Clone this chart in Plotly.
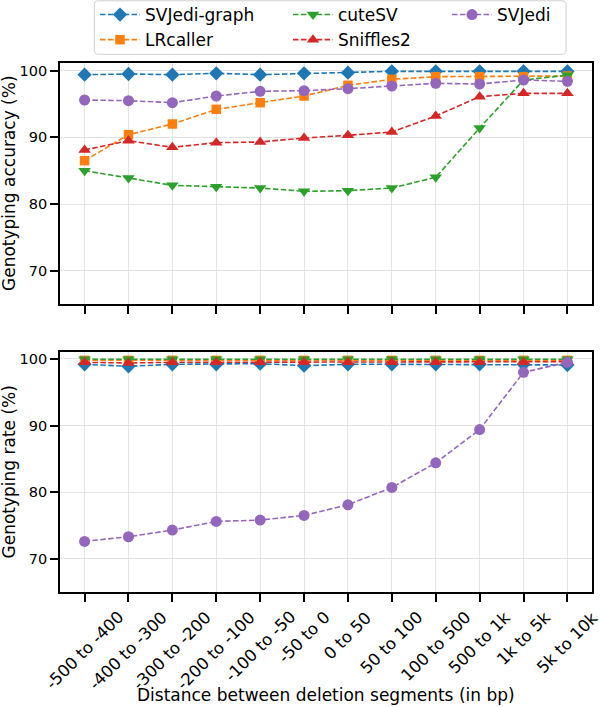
import plotly.graph_objects as go

categories = ["-500 to -400", "-400 to -300", "-300 to -200", "-200 to -100",
              "-100 to -50", "-50 to 0", "0 to 50", "50 to 100",
              "100 to 500", "500 to 1k", "1k to 5k", "5k to 10k"]

# Genotyping accuracy (%)
acc_svjedi_graph = [99.4, 99.5, 99.4, 99.6, 99.4, 99.6, 99.7, 99.9, 99.9, 99.9, 99.9, 99.9]
acc_lrcaller = [86.5, 90.4, 92.0, 94.2, 95.2, 96.2, 97.8, 98.7, 99.1, 99.1, 99.1, 99.2]
acc_cutesv = [85.0, 83.9, 82.8, 82.6, 82.4, 81.9, 82.0, 82.4, 84.0, 91.4, 98.6, 99.3]
acc_sniffles2 = [88.1, 89.5, 88.5, 89.2, 89.3, 89.9, 90.3, 90.8, 93.2, 96.1, 96.6, 96.6]
acc_svjedi = [95.6, 95.5, 95.2, 96.2, 96.9, 97.0, 97.3, 97.7, 98.1, 98.0, 98.6, 98.4]

# Genotyping rate (%)
rate_svjedi_graph = [99.2, 98.9, 99.2, 99.2, 99.3, 99.0, 99.2, 99.2, 99.2, 99.2, 99.2, 99.1]
rate_lrcaller = [99.8, 99.8, 99.8, 99.8, 99.8, 99.8, 99.8, 99.8, 99.8, 99.8, 99.8, 99.8]
rate_cutesv = [99.95, 99.95, 99.95, 99.95, 99.95, 99.95, 99.95, 99.95, 99.95, 99.95, 99.95, 99.95]
rate_sniffles2 = [99.5, 99.4, 99.5, 99.5, 99.5, 99.5, 99.5, 99.5, 99.5, 99.5, 99.5, 99.6]
rate_svjedi = [72.6, 73.3, 74.3, 75.6, 75.8, 76.5, 78.1, 80.7, 84.4, 89.4, 98.0, 99.5]

y_ticks = [70, 80, 90, 100]
acc_title = "Genotyping accuracy (%)"
rate_title = "Genotyping rate (%)"
x_title = "Distance between deletion segments (in bp)"

tools = [
    ("SVJedi-graph", "#1f77b4", "diamond", 11, acc_svjedi_graph, rate_svjedi_graph, "legend"),
    ("LRcaller", "#ff7f0e", "square", 9.5, acc_lrcaller, rate_lrcaller, "legend"),
    ("cuteSV", "#2ca02c", "triangle-down", 11, acc_cutesv, rate_cutesv, "legend2"),
    ("Sniffles2", "#d62728", "triangle-up", 11, acc_sniffles2, rate_sniffles2, "legend2"),
    ("SVJedi", "#9467bd", "circle", 11, acc_svjedi, rate_svjedi, "legend3"),
]

W, H = 600, 707
ML, MR, MT, MB = 60, 8, 63, 115
PW, PH = W - ML - MR, H - MT - MB


def px_x(px):
    return (px - ML) / PW


def px_y(py):
    return (H - MB - py) / PH


FONT = "DejaVu Sans"
DASH = "5.5px,2.4px"

fig = go.Figure()
xs = list(range(len(categories)))
for name, color, symbol, msize, acc, rate, leg in tools:
    fig.add_trace(go.Scatter(
        x=xs, y=acc, name=name, mode="lines+markers", legend=leg,
        line=dict(color=color, width=1.6, dash=DASH),
        marker=dict(symbol=symbol, size=msize, color=color, line=dict(width=0)),
        xaxis="x", yaxis="y",
    ))
    fig.add_trace(go.Scatter(
        x=xs, y=rate, name=name, mode="lines+markers", showlegend=False,
        line=dict(color=color, width=1.6, dash=DASH),
        marker=dict(symbol=symbol, size=msize, color=color, line=dict(width=0)),
        xaxis="x2", yaxis="y2",
    ))

axis_common = dict(
    showline=True, linecolor="black", linewidth=1.8, mirror=True,
    ticks="outside", ticklen=8, tickwidth=1.6, tickcolor="black",
    showgrid=True, gridcolor="#e3e3e3", gridwidth=0.8, zeroline=False,
    automargin=False,
    tickfont=dict(family=FONT, size=14.5, color="black"),
)

top_dom = [px_y(304), 1.0]
bot_dom = [0.0, px_y(352)]

fig.update_layout(
    width=W, height=H,
    margin=dict(l=ML, r=MR, t=MT, b=MB, autoexpand=False),
    plot_bgcolor="white", paper_bgcolor="white",
    font=dict(family=FONT, color="black"),
    xaxis=dict(axis_common, domain=[0, 1], anchor="y", range=[-0.56, 11.56],
               tickvals=xs, showticklabels=False),
    yaxis=dict(axis_common, domain=top_dom, anchor="x", range=[65.0, 101.15],
               tickvals=y_ticks),
    xaxis2=dict(axis_common, domain=[0, 1], anchor="y2", range=[-0.56, 11.56],
                tickvals=xs, showticklabels=False),
    yaxis2=dict(axis_common, domain=bot_dom, anchor="x2", range=[65.0, 101.05],
                tickvals=y_ticks),
)

leg_common = dict(
    orientation="v", xanchor="left", yanchor="top",
    bgcolor="rgba(0,0,0,0)", borderwidth=0, tracegroupgap=0, itemwidth=40,
    font=dict(family=FONT, size=17, color="black"),
    itemclick=False, itemdoubleclick=False,
)
leg_y = px_y(-3)
fig.update_layout(
    legend=dict(leg_common, x=px_x(95), y=leg_y),
    legend2=dict(leg_common, x=px_x(288), y=leg_y),
    legend3=dict(leg_common, x=px_x(447), y=leg_y),
)

# legend frame
lx0, lx1, ly0, ly1, r = 94.3, 566, 0.8, 54.3, 4
def P(px, py):
    return f"{px_x(px):.5f},{px_y(py):.5f}"
path = (f"M {P(lx0 + r, ly0)} L {P(lx1 - r, ly0)} Q {P(lx1, ly0)} {P(lx1, ly0 + r)} "
        f"L {P(lx1, ly1 - r)} Q {P(lx1, ly1)} {P(lx1 - r, ly1)} "
        f"L {P(lx0 + r, ly1)} Q {P(lx0, ly1)} {P(lx0, ly1 - r)} "
        f"L {P(lx0, ly0 + r)} Q {P(lx0, ly0)} {P(lx0 + r, ly0)} Z")
fig.add_shape(type="path", path=path, xref="paper", yref="paper",
              line=dict(color="#d0d0d0", width=1), fillcolor="rgba(255,255,255,0.8)",
              layer="above")

annotations = []
for i, lab in enumerate(categories):
    annotations.append(dict(
        x=i, xref="x2", y=0, yref="y2 domain", text=lab, showarrow=False,
        xanchor="center", yanchor="top", textangle=-45, yshift=-13,
        font=dict(family=FONT, size=16.5, color="black"),
    ))
annotations.append(dict(
    x=px_x(8.5), xref="paper", y=(top_dom[0] + top_dom[1]) / 2, yref="paper",
    text=acc_title, textangle=-90, showarrow=False, xanchor="center", yanchor="middle",
    font=dict(family=FONT, size=17, color="black"),
))
annotations.append(dict(
    x=px_x(8.5), xref="paper", y=(bot_dom[0] + bot_dom[1]) / 2, yref="paper",
    text=rate_title, textangle=-90, showarrow=False, xanchor="center", yanchor="middle",
    font=dict(family=FONT, size=17, color="black"),
))
annotations.append(dict(
    x=0.5, xref="paper", y=px_y(695), yref="paper",
    text=x_title, showarrow=False, xanchor="center", yanchor="middle",
    font=dict(family=FONT, size=17, color="black"),
))
fig.update_layout(annotations=annotations)

fig.write_html(
    "out.html",
    config={"displayModeBar": False},
    post_script="document.body.style.margin='0px';document.body.style.overflow='hidden';",
)
